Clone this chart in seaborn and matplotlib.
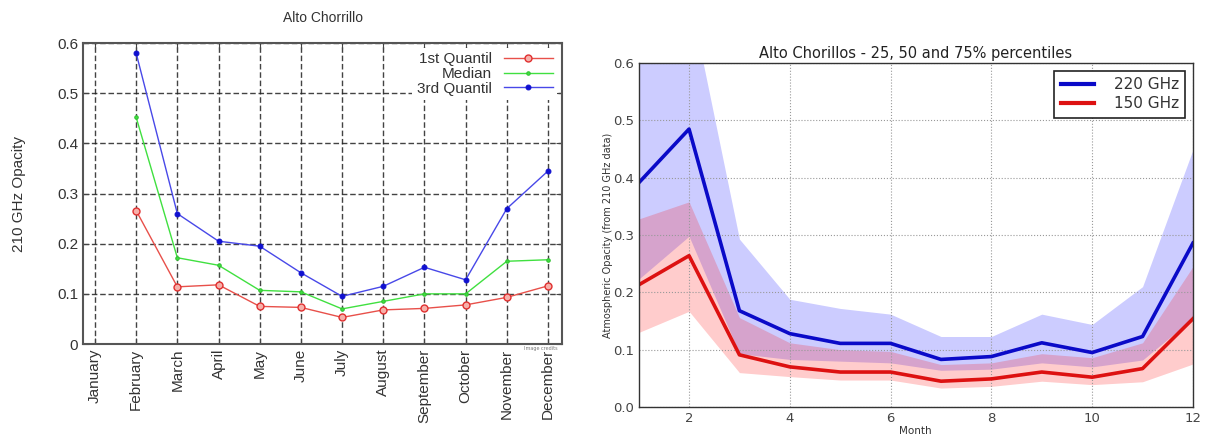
import numpy as np
import matplotlib
matplotlib.use("Agg")
import matplotlib.pyplot as plt
import seaborn as sns

# left panel: 210 GHz opacity quartiles per month (no January data)
month_names = ['January', 'February', 'March', 'April', 'May', 'June', 'July',
               'August', 'September', 'October', 'November', 'December']
left_months = [2, 3, 4, 5, 6, 7, 8, 9, 10, 11, 12]
q1_210 = [0.266, 0.114, 0.118, 0.075, 0.073, 0.053, 0.068, 0.071, 0.078, 0.093, 0.116]
med_210 = [0.452, 0.172, 0.157, 0.107, 0.104, 0.070, 0.085, 0.100, 0.100, 0.165, 0.168]
q3_210 = [0.580, 0.260, 0.205, 0.195, 0.142, 0.095, 0.115, 0.153, 0.128, 0.270, 0.345]

# right panel: 25/50/75% percentiles at 220 and 150 GHz
months = [1, 2, 3, 4, 5, 6, 7, 8, 9, 10, 11, 12]
med_220 = [0.391, 0.485, 0.168, 0.128, 0.111, 0.111, 0.083, 0.088, 0.112, 0.095, 0.123, 0.286]
p25_220 = [0.223, 0.298, 0.093, 0.083, 0.080, 0.077, 0.064, 0.066, 0.077, 0.070, 0.082, 0.155]
p75_220 = [0.680, 0.720, 0.293, 0.188, 0.172, 0.162, 0.123, 0.123, 0.162, 0.144, 0.210, 0.449]
med_150 = [0.213, 0.264, 0.091, 0.070, 0.061, 0.061, 0.045, 0.049, 0.061, 0.052, 0.067, 0.154]
p25_150 = [0.130, 0.167, 0.060, 0.053, 0.047, 0.047, 0.033, 0.036, 0.045, 0.039, 0.044, 0.075]
p75_150 = [0.328, 0.358, 0.156, 0.112, 0.100, 0.097, 0.074, 0.077, 0.093, 0.086, 0.112, 0.245]

fig = plt.figure(figsize=(12.05, 4.38), dpi=100)

# ---- left: gnuplot-like chart
ax1 = fig.add_axes([0.0689, 0.2146, 0.3975, 0.687])
sns.lineplot(x=left_months, y=q1_210, ax=ax1, color='#e8504a', lw=1, marker='o', ms=5,
             mfc='#f6b0aa', mec='#e03030', mew=1, label='1st Quantil')
sns.lineplot(x=left_months, y=med_210, ax=ax1, color='#40e040', lw=1, marker='.', ms=5,
             mec='#30c030', label='Median')
sns.lineplot(x=left_months, y=q3_210, ax=ax1, color='#4848e8', lw=1, marker='o', ms=3.5,
             mfc='#1010d0', mec='#1010d0', label='3rd Quantil')
ax1.set_xlim(0.71, 12.34)
ax1.set_ylim(0, 0.6)
ax1.set_xticks(months)
ax1.set_xticklabels(month_names, rotation=90, fontsize=11, family='Liberation Sans', color='#333333')
ax1.set_yticks([0, 0.1, 0.2, 0.3, 0.4, 0.5, 0.6])
ax1.set_yticklabels(['0', '0.1', '0.2', '0.3', '0.4', '0.5', '0.6'], fontsize=11,
                    family='Liberation Sans', color='#333333')
ax1.grid(True, color='#222222', ls=(0, (4, 2)), lw=1.0, alpha=0.85)
ax1.set_axisbelow(True)
ax1.tick_params(direction='in', top=True, right=True, length=4, color='#444444')
for s in ax1.spines.values():
    s.set_color('#555555')
    s.set_linewidth(1.5)
ax1.set_title('Alto Chorrillo', fontsize=10, family='Liberation Sans', color='#333333', pad=15)
ax1.set_ylabel('210 GHz Opacity', fontsize=11, family='Liberation Sans', color='#333333', labelpad=22)
ax1.set_xlabel('')
leg1 = ax1.legend(loc='upper right', markerfirst=False, frameon=True, framealpha=1,
                  edgecolor='none', facecolor='white', fancybox=False, borderaxespad=0.3,
                  handlelength=3.2, labelspacing=0.05, borderpad=0.3,
                  prop={'family': 'Liberation Sans', 'size': 11})
for t in leg1.get_texts():
    t.set_color('#333333')
    t.set_ha('right')
ax1.text(0.99, -0.005, 'Image credits', transform=ax1.transAxes, fontsize=3.5,
         color='#777777', ha='right', va='top')

# ---- right: percentile bands
ax2 = fig.add_axes([0.530, 0.0708, 0.460, 0.785])
ax2.fill_between(months, p25_220, p75_220, color='blue', alpha=0.2, lw=0)
ax2.fill_between(months, p25_150, p75_150, color='red', alpha=0.2, lw=0)
sns.lineplot(x=months, y=med_220, ax=ax2, color='#0a0ac8', lw=2.6, label='220 GHz')
sns.lineplot(x=months, y=med_150, ax=ax2, color='#dd1111', lw=2.6, label='150 GHz')
ax2.set_xlim(1, 12)
ax2.set_ylim(0, 0.6)
ax2.set_xticks([2, 4, 6, 8, 10, 12])
ax2.set_yticks([0.0, 0.1, 0.2, 0.3, 0.4, 0.5, 0.6])
ax2.set_yticklabels(['0.0', '0.1', '0.2', '0.3', '0.4', '0.5', '0.6'])
ax2.tick_params(labelsize=9.5, labelcolor='#444444', direction='in', length=0)
ax2.grid(True, color='#999999', ls=':', lw=0.8)
for s in ax2.spines.values():
    s.set_color('#333333')
    s.set_linewidth(1.0)
ax2.set_title('Alto Chorillos - 25, 50 and 75% percentiles', fontsize=10.5, color='#222222', pad=4)
ax2.set_xlabel('Month', fontsize=7.5, color='#333333', labelpad=1)
ax2.set_ylabel('Atmospheric Opacity (from 210 GHz data)', fontsize=7, color='#333333', labelpad=0)
leg2 = ax2.legend(loc='upper right', frameon=True, fancybox=False, edgecolor='#222222',
                  framealpha=1, fontsize=11, handlelength=2.2, handletextpad=1.3,
                  borderaxespad=0.5, labelspacing=0.3)
leg2.get_frame().set_linewidth(1.2)
for line in leg2.get_lines():
    line.set_linewidth(3)
for t in leg2.get_texts():
    t.set_color('#333333')

fig.savefig('out.png', dpi=100)
